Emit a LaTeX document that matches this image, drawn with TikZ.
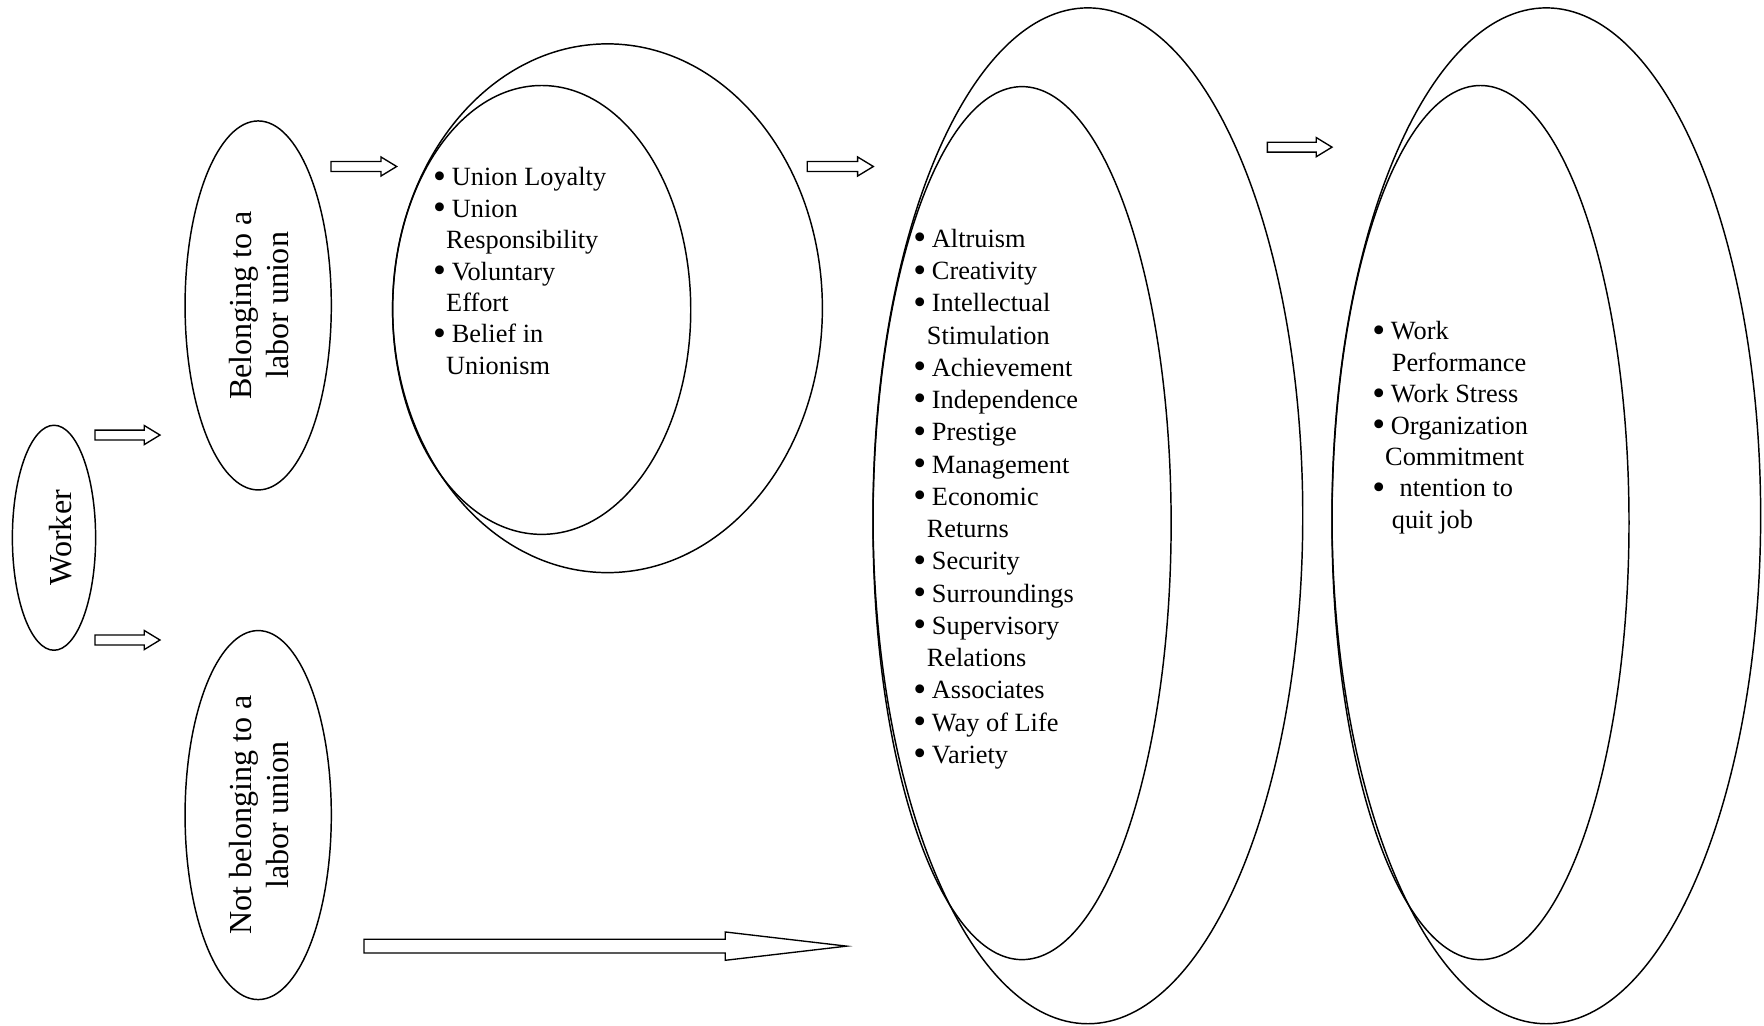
\documentclass[tikz,border=0pt]{standalone}
\usepackage{fontspec}
\usepackage{graphicx}
\setmainfont{Liberation Serif}
\usetikzlibrary{shapes.geometric}
\newcommand{\bl}{\makebox[16pt][l]{\hspace*{-0.6pt}\raisebox{-0.09em}{\scalebox{1.4}{\textbullet}}}}
\newcommand{\barrow}[6]{%
  \draw[blockarrow] (#1,#2-#4) -- (#3-#6,#2-#4) -- (#3-#6,#2-#5) -- (#3,#2)
    -- (#3-#6,#2+#5) -- (#3-#6,#2+#4) -- (#1,#2+#4) -- cycle;}
\tikzset{
  oval/.style={draw, ellipse, line width=1.3pt, inner sep=0pt, outer sep=0pt},
  blockarrow/.style={draw, line width=1.2pt, fill=white, line join=miter},
  rottxt/.style={rotate=90, align=center, inner sep=0pt,
    font=\fontsize{28.5}{33}\selectfont},
  listtxt/.style={anchor=base west, inner sep=0pt,
    font=\fontsize{23.4}{28}\selectfont},
}
\begin{document}
\begin{tikzpicture}[x=1pt,y=-1pt]
\useasboundingbox (0,0) rectangle (1568,912);
% ellipses
\node[oval, minimum width=74pt, minimum height=200pt] (worker) at (48,478) {};
\node[oval, minimum width=130pt, minimum height=328pt] (belong) at (229.5,271.5) {};
\node[oval, minimum width=130pt, minimum height=328pt] (notbelong) at (229.5,724.5) {};
\node[oval, minimum width=382pt, minimum height=470pt] (unionout) at (540,274) {};
\node[oval, minimum width=265pt, minimum height=399pt] (unionin) at (481.5,275.5) {};
\node[oval, minimum width=382pt, minimum height=903pt] (valout) at (967,458.5) {};
\node[oval, minimum width=265pt, minimum height=776pt] (valin) at (908.5,465) {};
\node[oval, minimum width=381pt, minimum height=903pt] (resout) at (1374.5,458.5) {};
\node[oval, minimum width=264pt, minimum height=777pt] (resin) at (1316,464.5) {};
% rotated labels
\node[rottxt] (workertxt) at (53.5,478) {Worker};
\node[rottxt] (belongtxt) at (230,271.5) {Belonging to a\\labor union};
\node[rottxt] (notbelongtxt) at (230,724.5) {Not belonging to a\\labor union};
% block arrows
\barrow{84.4}{386.7}{142.2}{4.4}{8.5}{14}
\barrow{84.4}{568.9}{142.2}{4.4}{8.5}{14}
\barrow{294.2}{148}{352.6}{4.4}{8.5}{14}
\barrow{717.6}{148}{776.3}{4.4}{8.5}{14}
\barrow{1126.5}{130.8}{1184}{4.4}{8.5}{14}
\barrow{323.6}{841}{752.6}{6.1}{12.6}{108}
% union list
\foreach \t [count=\i from 0] in {{\bl Union Loyalty},{\bl Union},{\hspace*{10.9pt}Responsibility},{\bl Voluntary},{\hspace*{10.9pt}Effort},{\bl Belief in},{\hspace*{10.9pt}Unionism}}
  \node[listtxt] (u\i) at (385.5,165.3+27.9*\i) {\t};
% values list
\foreach \t [count=\i from 0] in {{\bl Altruism},{\bl Creativity},{\bl Intellectual},{\hspace*{11.5pt}Stimulation},{\bl Achievement},{\bl Independence},{\bl Prestige},{\bl Management},{\bl Economic},{\hspace*{11.5pt}Returns},{\bl Security},{\bl Surroundings},{\bl Supervisory},{\hspace*{11.5pt}Relations},{\bl Associates},{\bl Way of Life},{\bl Variety}}
  \node[listtxt] (v\i) at (812.2,219.9+28.66*\i) {\t};
% outcomes list
\foreach \t [count=\i from 0] in {{\bl Work},{\hspace*{16.8pt}Performance},{\bl Work Stress},{\bl Organization},{\hspace*{10.9pt}Commitment},{\bl\hspace*{7.7pt}ntention to},{\hspace*{16.8pt}quit job}}
  \node[listtxt] (o\i) at (1220.2,302.2+27.9*\i) {\t};
\end{tikzpicture}
\end{document}
